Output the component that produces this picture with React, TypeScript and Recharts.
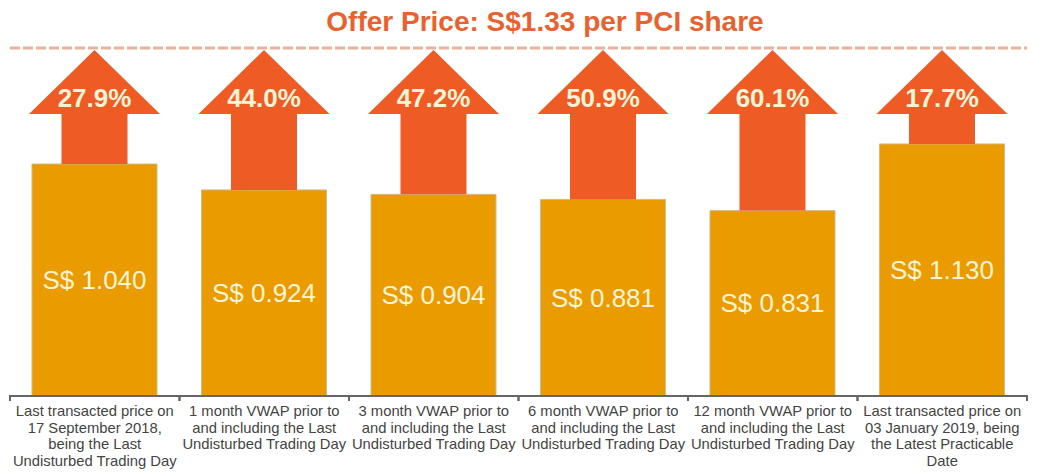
import { BarChart, Bar, XAxis, YAxis, LabelList, ReferenceLine } from 'recharts'

const categories = [
  ['Last transacted price on', '17 September 2018,', 'being the Last', 'Undisturbed Trading Day'],
  ['1 month VWAP prior to', 'and including the Last', 'Undisturbed Trading Day'],
  ['3 month VWAP prior to', 'and including the Last', 'Undisturbed Trading Day'],
  ['6 month VWAP prior to', 'and including the Last', 'Undisturbed Trading Day'],
  ['12 month VWAP prior to', 'and including the Last', 'Undisturbed Trading Day'],
  ['Last transacted price on', '03 January 2019, being', 'the Latest Practicable', 'Date'],
]
const prices = [1.04, 0.924, 0.904, 0.881, 0.831, 1.13]
const premiums = [27.9, 44.0, 47.2, 50.9, 60.1, 17.7]
const offerPrice = 1.33
// level where the arrows end (dashed line) - illustrative, not to scale
const arrowLevel = 1.56

const W = 1037
const H = 475
const M = { top: 48, right: 10, bottom: 0, left: 10 }
const BAND = (W - M.left - M.right) / categories.length

const ORANGE = '#EA9B00'
const RED = '#EE5B24'
const CREAM = '#FFF4D6'

const data = categories.map((c, i) => ({
  key: String(i),
  lines: c,
  price: prices[i],
  gap: arrowLevel - prices[i],
  premium: premiums[i],
}))

function Arrow(props: any) {
  const { x, y, width, height } = props
  const cx = x + width / 2
  const hw = width / 2 + 3
  const hh = 66
  const sw = 33
  const pts = [
    [cx, y + 2],
    [cx + hw, y + hh],
    [cx + sw, y + hh],
    [cx + sw, y + height],
    [cx - sw, y + height],
    [cx - sw, y + hh],
    [cx - hw, y + hh],
  ]
  return <polygon points={pts.map(p => p.join(',')).join(' ')} fill={RED} />
}

function PremiumLabel(props: any) {
  const { x, y, width, value } = props
  return (
    <text x={x + width / 2} y={y + 59} textAnchor="middle" fill={CREAM}
      fontSize={26} fontWeight={700} fontFamily="Liberation Sans, Arial, sans-serif">
      {`${Number(value).toFixed(1)}%`}
    </text>
  )
}

function PriceLabel(props: any) {
  const { x, y, width, height, value } = props
  return (
    <text x={x + width / 2} y={y + height / 2 + 9} textAnchor="middle" fill={CREAM}
      fontSize={26} fontFamily="Liberation Sans, Arial, sans-serif">
      {`S$ ${Number(value).toFixed(3)}`}
    </text>
  )
}

function CategoryTick(props: any) {
  const { x, y, payload } = props
  const d = data[Number(payload.value)]
  return (
    <g>
      <line x1={x - BAND / 2} x2={x - BAND / 2} y1={y - 9} y2={y - 3} stroke="#666" strokeWidth={2} />
      <line x1={x + BAND / 2} x2={x + BAND / 2} y1={y - 9} y2={y - 3} stroke="#666" strokeWidth={2} />
      <text x={x} y={y + 12} textAnchor="middle" fill="#444" fontSize={14.8}
        fontFamily="Liberation Sans, Arial, sans-serif">
        {d.lines.map((l, i) => (
          <tspan key={i} x={x} dy={i === 0 ? 0 : 16.6}>{l}</tspan>
        ))}
      </text>
    </g>
  )
}

export default function App() {
  return (
    <div style={{ position: 'absolute', left: 0, top: 0, width: W, height: H, background: '#fff' }}>
      <svg width={W} height={40} style={{ position: 'absolute', left: 0, top: 0 }}>
        <text x={545} y={31} textAnchor="middle" fill="#E8622F" fontSize={28} fontWeight={700}
          fontFamily="Liberation Sans, Arial, sans-serif">
          {`Offer Price: S$${offerPrice.toFixed(2)} per PCI share`}
        </text>
      </svg>
      <BarChart width={W} height={H} data={data} margin={M} barSize={125}>
        <XAxis dataKey="key" height={79} interval={0} tickLine={false}
          axisLine={{ stroke: '#666', strokeWidth: 2 }} tick={<CategoryTick />} />
        <YAxis hide domain={[0, arrowLevel]} />
        <Bar dataKey="price" stackId="a" fill={ORANGE} stroke="#D2B98E" strokeWidth={1} isAnimationActive={false}>
          <LabelList dataKey="price" content={<PriceLabel />} />
        </Bar>
        <Bar dataKey="gap" stackId="a" shape={<Arrow />} isAnimationActive={false}>
          <LabelList dataKey="premium" content={<PremiumLabel />} />
        </Bar>
        <ReferenceLine y={arrowLevel} stroke="#E9B29C" strokeWidth={3} strokeDasharray="10 3" ifOverflow="visible" />
      </BarChart>
    </div>
  )
}
